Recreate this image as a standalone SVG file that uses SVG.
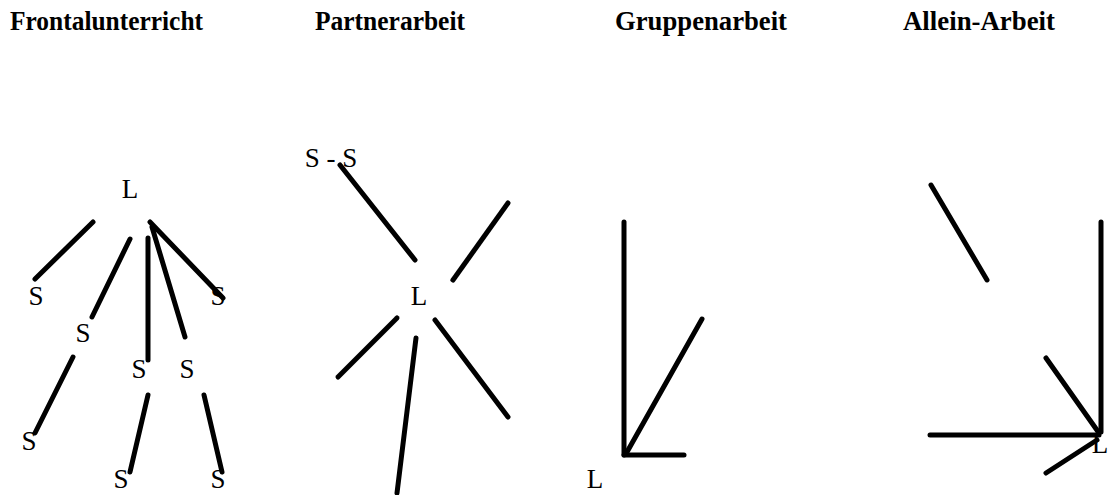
<svg xmlns="http://www.w3.org/2000/svg" width="1108" height="495" viewBox="0 0 1108 495">
<style>
.t{font-family:"Liberation Serif","Times New Roman",serif;font-weight:bold;font-size:27px;fill:#000}
.n{font-family:"Liberation Serif","Times New Roman",serif;font-size:27px;fill:#000;text-anchor:middle}
.c line{stroke:#000;stroke-width:5;stroke-linecap:round}
</style>
<rect width="1108" height="495" fill="#fff"/>
<g id="titles">
<text class="t" x="10" y="30" textLength="193" lengthAdjust="spacingAndGlyphs">Frontalunterricht</text>
<text class="t" x="315" y="30" textLength="150" lengthAdjust="spacingAndGlyphs">Partnerarbeit</text>
<text class="t" x="615" y="30" textLength="172" lengthAdjust="spacingAndGlyphs">Gruppenarbeit</text>
<text class="t" x="903" y="30" textLength="152" lengthAdjust="spacingAndGlyphs">Allein-Arbeit</text>
</g>
<g id="frontal-nodes">
<g id="f-L"><text class="n" x="130" y="198">L</text></g>
<g id="f-S1"><text class="n" x="36" y="305">S</text></g>
<g id="f-S2"><text class="n" x="83" y="342">S</text></g>
<g id="f-S3"><text class="n" x="218" y="305">S</text></g>
<g id="f-S4"><text class="n" x="139" y="378">S</text></g>
<g id="f-S5"><text class="n" x="187" y="378">S</text></g>
<g id="f-S6"><text class="n" x="29" y="450">S</text></g>
<g id="f-S7"><text class="n" x="121" y="488">S</text></g>
<g id="f-S8"><text class="n" x="218" y="488">S</text></g>
</g>
<g id="partner-nodes">
<g id="p-SS"><text class="n" x="331" y="167">S - S</text></g>
<g id="p-L"><text class="n" x="419" y="305">L</text></g>
</g>
<g id="gruppe-nodes">
<g id="g-L"><text class="n" x="595" y="488">L</text></g>
</g>
<g id="allein-nodes">
<g id="a-L"><text class="n" x="1100" y="453">L</text></g>
</g>
<g id="connectors" class="c">
<line x1="93" y1="222" x2="35" y2="279"/>
<line x1="130" y1="239" x2="92" y2="317"/>
<line x1="150" y1="222" x2="223" y2="298"/>
<line x1="148" y1="238" x2="148" y2="360"/>
<line x1="152" y1="227" x2="185" y2="337"/>
<line x1="73" y1="357" x2="35" y2="433"/>
<line x1="148" y1="395" x2="130" y2="472"/>
<line x1="204" y1="395" x2="222" y2="472"/>
<line x1="340" y1="165" x2="415" y2="260"/>
<line x1="508" y1="203" x2="453" y2="280"/>
<line x1="397" y1="318" x2="338" y2="377"/>
<line x1="435" y1="320" x2="508" y2="417"/>
<line x1="416" y1="338" x2="397" y2="493"/>
<line x1="624" y1="222" x2="624" y2="455"/>
<line x1="624" y1="455" x2="684" y2="455"/>
<line x1="702" y1="319" x2="627" y2="452"/>
<line x1="931" y1="185" x2="987" y2="280"/>
<line x1="1101" y1="222" x2="1101" y2="432"/>
<line x1="930" y1="435" x2="1099" y2="435"/>
<line x1="1046" y1="358" x2="1099" y2="433"/>
<line x1="1097" y1="440" x2="1046" y2="473"/>
</g>
</svg>
